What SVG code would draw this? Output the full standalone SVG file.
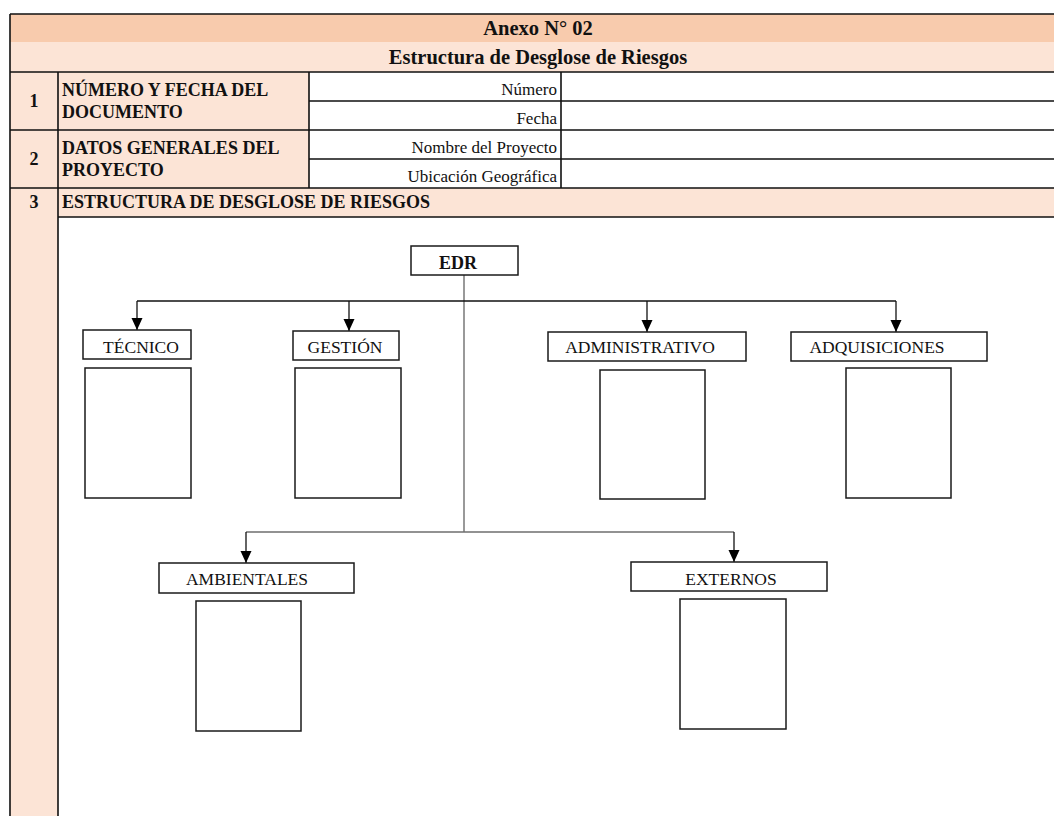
<svg xmlns="http://www.w3.org/2000/svg" width="1054" height="816" viewBox="0 0 1054 816">
  <defs>
    <style>
      .t { font-family: "Liberation Serif", "Times New Roman", serif; fill: #111; }
      .b { font-weight: bold; }
      .head { font-size: 20.5px; }
      .lbl { font-size: 18px; }
      .val { font-size: 17px; }
      .node { font-size: 17.5px; }
      .grid { stroke: #111; stroke-width: 1.6; fill: none; }
      .box { fill: #fff; stroke: #1a1a1a; stroke-width: 1.5; }
      .stem { stroke: #111; stroke-width: 1.3; fill: none; }
      .trunk { stroke: #6e6e6e; stroke-width: 1.4; fill: none; }
    </style>
    <marker id="arrow" markerUnits="userSpaceOnUse" markerWidth="12" markerHeight="12" viewBox="0 0 12 12" refX="12" refY="6" orient="auto">
      <path d="M0,0.5 L12,6 L0,11.5 z" fill="#000"/>
    </marker>
  </defs>

  <rect width="1054" height="816" fill="#fff"/>

  <!-- form table -->
  <g id="table">
    <rect x="10" y="14" width="1060" height="28" fill="#F8CBAD"/>
    <rect x="10" y="42" width="1060" height="30" fill="#FCE4D6"/>
    <rect x="10" y="72" width="48" height="760" fill="#FCE4D6"/>
    <rect x="58" y="72" width="251" height="116" fill="#FCE4D6"/>
    <rect x="58" y="188" width="1010" height="29" fill="#FCE4D6"/>

    <path class="grid" d="M10,14 H1070 M10,14 V820 M10,72 H1070 M309,101 H1070 M10,130 H1070 M309,159 H1070 M10,188 H1070 M58,217 H1070 M58,72 V820 M309,72 V188 M561,72 V188"/>

    <text class="t b head" x="538" y="35" text-anchor="middle">Anexo N° 02</text>
    <text class="t b head" x="538" y="64" text-anchor="middle">Estructura de Desglose de Riesgos</text>

    <text class="t b lbl" x="34" y="107" text-anchor="middle">1</text>
    <text class="t b lbl" x="62" y="95.5">NÚMERO Y FECHA DEL</text>
    <text class="t b lbl" x="62" y="117.5">DOCUMENTO</text>
    <text class="t val" x="557" y="94.5" text-anchor="end">Número</text>
    <text class="t val" x="557" y="123.5" text-anchor="end">Fecha</text>

    <text class="t b lbl" x="34" y="165" text-anchor="middle">2</text>
    <text class="t b lbl" x="62" y="153.5">DATOS GENERALES DEL</text>
    <text class="t b lbl" x="62" y="175.5">PROYECTO</text>
    <text class="t val" x="557" y="152.5" text-anchor="end">Nombre del Proyecto</text>
    <text class="t val" x="557" y="181.5" text-anchor="end">Ubicación Geográfica</text>

    <text class="t b lbl" x="34" y="207.5" text-anchor="middle">3</text>
    <text class="t b lbl" x="62" y="207.5">ESTRUCTURA DE DESGLOSE DE RIESGOS</text>
  </g>

  <!-- connectors -->
  <g id="connectors">
    <path class="trunk" d="M464,275 V532"/>
    <path class="stem" d="M137,301 H896"/>
    <path class="trunk" d="M246,532 H734"/>
    <path class="stem" d="M137,301 V330" marker-end="url(#arrow)"/>
    <path class="stem" d="M349,301 V331" marker-end="url(#arrow)"/>
    <path class="stem" d="M647,301 V332" marker-end="url(#arrow)"/>
    <path class="stem" d="M896,301 V332" marker-end="url(#arrow)"/>
    <path class="stem" d="M246,532 V563" marker-end="url(#arrow)"/>
    <path class="stem" d="M734,532 V562" marker-end="url(#arrow)"/>
  </g>

  <!-- root -->
  <g id="edr">
    <rect class="box" x="411" y="246" width="107" height="29"/>
    <text class="t b" x="458" y="269" font-size="18" text-anchor="middle">EDR</text>
  </g>

  <!-- categories -->
  <g id="tecnico">
    <rect class="box" x="83" y="330" width="108" height="29"/>
    <text class="t node" x="141" y="353" text-anchor="middle">TÉCNICO</text>
    <rect class="box" x="85" y="368" width="106" height="130"/>
  </g>
  <g id="gestion">
    <rect class="box" x="293" y="331" width="106" height="29"/>
    <text class="t node" x="345" y="353" text-anchor="middle">GESTIÓN</text>
    <rect class="box" x="295" y="368" width="106" height="130"/>
  </g>
  <g id="administrativo">
    <rect class="box" x="548" y="332" width="198" height="29"/>
    <text class="t node" x="640" y="353" text-anchor="middle">ADMINISTRATIVO</text>
    <rect class="box" x="600" y="370" width="105" height="129"/>
  </g>
  <g id="adquisiciones">
    <rect class="box" x="791" y="332" width="196" height="29"/>
    <text class="t node" x="877" y="353" text-anchor="middle">ADQUISICIONES</text>
    <rect class="box" x="846" y="368" width="105" height="130"/>
  </g>
  <g id="ambientales">
    <rect class="box" x="159" y="563" width="195" height="30"/>
    <text class="t node" x="247" y="585" text-anchor="middle">AMBIENTALES</text>
    <rect class="box" x="196" y="601" width="105" height="130"/>
  </g>
  <g id="externos">
    <rect class="box" x="631" y="562" width="196" height="29"/>
    <text class="t node" x="731" y="585" text-anchor="middle">EXTERNOS</text>
    <rect class="box" x="680" y="599" width="106" height="130"/>
  </g>
</svg>
